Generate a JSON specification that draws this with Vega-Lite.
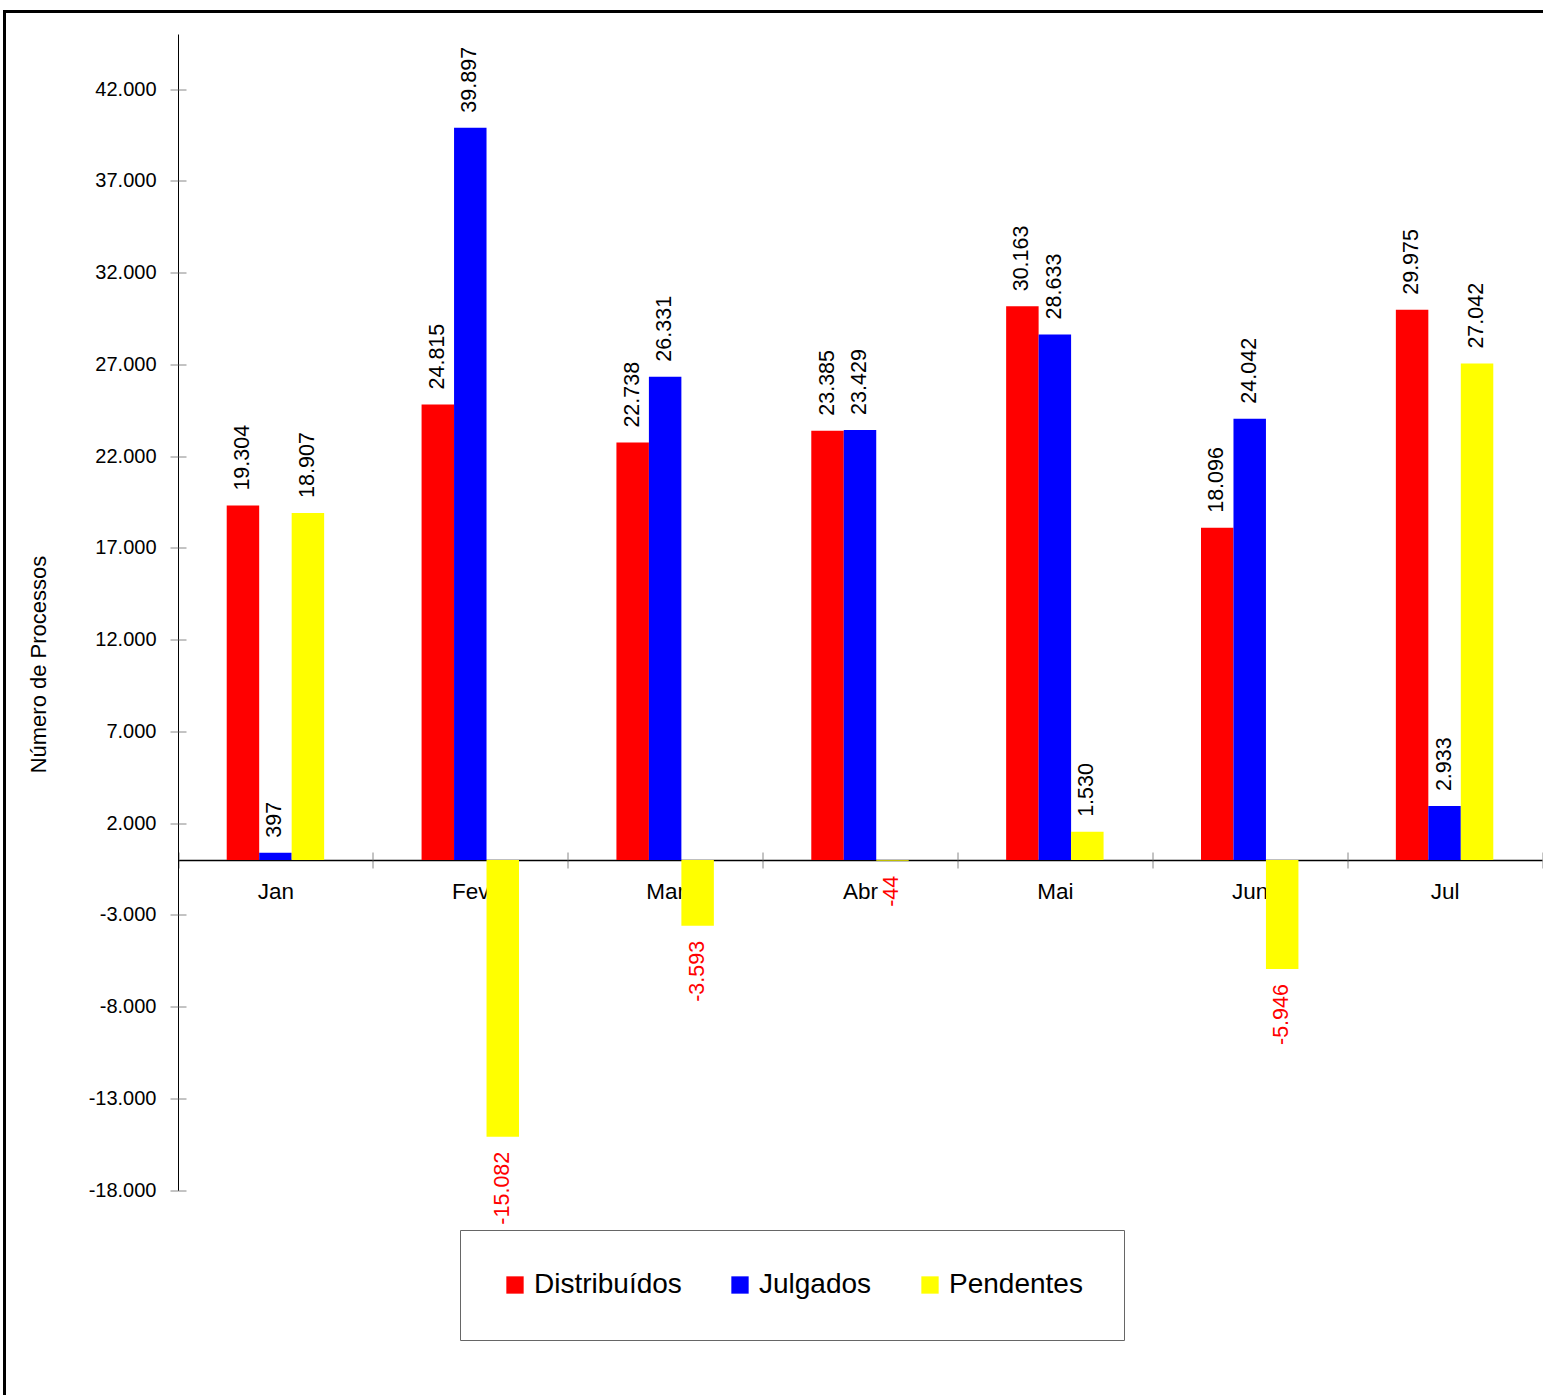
{
  "$schema": "https://vega.github.io/schema/vega-lite/v6.json",
  "autosize": "none",
  "width": 1545,
  "height": 1390,
  "padding": {"left": 4.5, "top": 11.5, "right": -6.5, "bottom": -6.5},
  "config": {
    "locale": {"number": {"decimal": ",", "thousands": ".", "grouping": [3], "currency": ["R$", ""], "minus": "-"}},
    "view": {"stroke": "black", "strokeWidth": 3},
    "font": "Liberation Sans",
    "axis": {"labelColor": "black", "tickColor": "#888888", "domainColor": "black", "grid": false}
  },
  "data": {"values": [
    {"mes": "Jan", "serie": "Distribuídos", "valor": 19304},
    {"mes": "Jan", "serie": "Julgados", "valor": 397},
    {"mes": "Jan", "serie": "Pendentes", "valor": 18907},
    {"mes": "Fev", "serie": "Distribuídos", "valor": 24815},
    {"mes": "Fev", "serie": "Julgados", "valor": 39897},
    {"mes": "Fev", "serie": "Pendentes", "valor": -15082},
    {"mes": "Mar", "serie": "Distribuídos", "valor": 22738},
    {"mes": "Mar", "serie": "Julgados", "valor": 26331},
    {"mes": "Mar", "serie": "Pendentes", "valor": -3593},
    {"mes": "Abr", "serie": "Distribuídos", "valor": 23385},
    {"mes": "Abr", "serie": "Julgados", "valor": 23429},
    {"mes": "Abr", "serie": "Pendentes", "valor": -44},
    {"mes": "Mai", "serie": "Distribuídos", "valor": 30163},
    {"mes": "Mai", "serie": "Julgados", "valor": 28633},
    {"mes": "Mai", "serie": "Pendentes", "valor": 1530},
    {"mes": "Jun", "serie": "Distribuídos", "valor": 18096},
    {"mes": "Jun", "serie": "Julgados", "valor": 24042},
    {"mes": "Jun", "serie": "Pendentes", "valor": -5946},
    {"mes": "Jul", "serie": "Distribuídos", "valor": 29975},
    {"mes": "Jul", "serie": "Julgados", "valor": 2933},
    {"mes": "Jul", "serie": "Pendentes", "valor": 27042}
  ]},
  "resolve": {"axis": {"x": "independent", "y": "independent"}},
  "layer": [
    {
      "mark": {"type": "bar"},
      "encoding": {
        "x": {
          "field": "mes", "type": "nominal",
          "sort": ["Jan", "Fev", "Mar", "Abr", "Mai", "Jun", "Jul"],
          "scale": {"range": [173.5, 1537.5], "paddingInner": 0, "paddingOuter": 0},
          "axis": {
            "orient": "bottom", "offset": -541.5, "title": null, "labelAngle": 0,
            "tickBand": "extent", "tickSize": 8, "labelFontSize": 22.5, "labelPadding": 12,
            "domainWidth": 1.5
          }
        },
        "xOffset": {
          "field": "serie", "type": "nominal",
          "scale": {"domain": ["_a", "Distribuídos", "Julgados", "Pendentes", "_b"], "paddingInner": 0, "paddingOuter": 0.5}
        },
        "y": {
          "field": "valor", "type": "quantitative",
          "scale": {"domain": [-18000, 45000], "range": [1178.8, 22.5], "nice": false, "zero": false},
          "axis": {
            "orient": "left", "offset": -173.5,
            "values": [-18000, -13000, -8000, -3000, 2000, 7000, 12000, 17000, 22000, 27000, 32000, 37000, 42000],
            "format": ",d", "tickSize": 8, "labelFontSize": 20, "labelPadding": 14,
            "title": "Número de Processos", "titleFontSize": 22, "titleFontWeight": "normal",
            "titleAngle": 270, "titleX": -140, "titleY": 652.5, "titleAlign": "center", "titleBaseline": "middle"
          }
        },
        "color": {
          "field": "serie", "type": "nominal",
          "scale": {"domain": ["Distribuídos", "Julgados", "Pendentes"], "range": ["#ff0000", "#0000ff", "#ffff00"]},
          "legend": {
            "orient": "none", "legendX": 455.5, "legendY": 1218.5, "direction": "horizontal",
            "title": null, "strokeColor": "#666666", "padding": 41,
            "symbolType": "square", "symbolSize": 300, "symbolStrokeWidth": 0,
            "labelFontSize": 28, "labelOffset": 5, "columnPadding": 44, "labelColor": "black"
          }
        }
      }
    },
    {
      "transform": [{"filter": "datum.valor >= 0"}],
      "mark": {"type": "text", "angle": 270, "align": "left", "baseline": "middle", "dx": 15, "fontSize": 21.5, "color": "black"},
      "encoding": {
        "x": {
          "field": "mes", "type": "nominal",
          "sort": ["Jan", "Fev", "Mar", "Abr", "Mai", "Jun", "Jul"],
          "axis": {
            "orient": "top", "offset": -848.5, "title": null, "labels": false, "domain": false,
            "tickBand": "extent", "tickSize": 8
          }
        },
        "xOffset": {"field": "serie", "type": "nominal"},
        "y": {
          "field": "valor", "type": "quantitative",
          "axis": {
            "orient": "right", "offset": -1371.5, "title": null, "labels": false, "domain": false,
            "values": [-18000, -13000, -8000, -3000, 2000, 7000, 12000, 17000, 22000, 27000, 32000, 37000, 42000],
            "tickSize": 8
          }
        },
        "text": {"field": "valor", "type": "quantitative", "format": ",d"}
      }
    },
    {
      "transform": [{"filter": "datum.valor < 0"}],
      "mark": {"type": "text", "angle": 270, "align": "right", "baseline": "middle", "dx": -15, "fontSize": 21.5, "color": "#ff0000"},
      "encoding": {
        "x": {"field": "mes", "type": "nominal", "sort": ["Jan", "Fev", "Mar", "Abr", "Mai", "Jun", "Jul"], "axis": null},
        "xOffset": {"field": "serie", "type": "nominal"},
        "y": {"field": "valor", "type": "quantitative", "axis": null},
        "text": {"field": "valor", "type": "quantitative", "format": ",d"}
      }
    }
  ]
}
